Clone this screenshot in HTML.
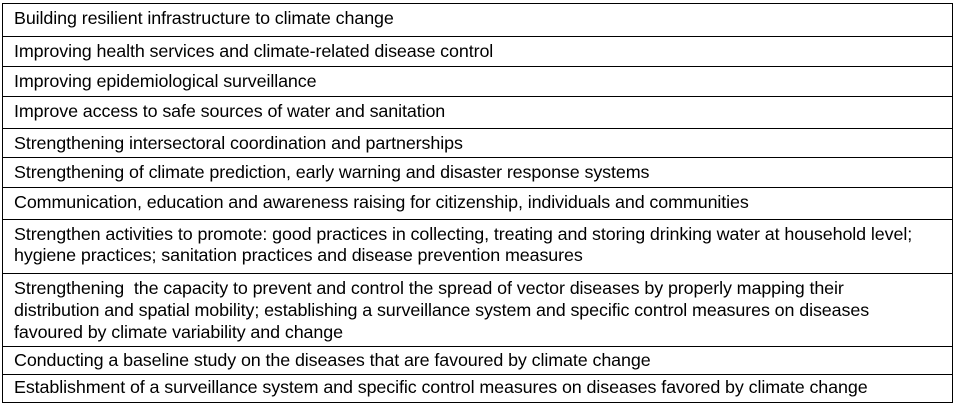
<!DOCTYPE html>
<html><head><meta charset="utf-8"><style>
body{margin:0;background:#fff;width:958px;height:411px;position:relative;overflow:hidden;font-family:"Liberation Sans",sans-serif;}
#tbl{position:absolute;left:2px;top:3px;width:951px;height:400px;border:1.5px solid #000;box-sizing:border-box;}
.row{position:absolute;left:0;width:100%;box-sizing:border-box;border-bottom:1.5px solid #000;font-size:17.9px;line-height:20px;color:#000;padding-left:11px;padding-top:4px;white-space:nowrap;letter-spacing:-0.1px;}
.row:last-child{border-bottom:none}
</style></head><body>
<div id="tbl">
<div class="row" style="top:0;height:33px">Building resilient infrastructure to climate change</div>
<div class="row" style="top:33px;height:30px">Improving health services and climate-related disease control</div>
<div class="row" style="top:63px;height:30px">Improving epidemiological surveillance</div>
<div class="row" style="top:93px;height:32px">Improve access to safe sources of water and sanitation</div>
<div class="row" style="top:125px;height:29px">Strengthening intersectoral coordination and partnerships</div>
<div class="row" style="top:154px;height:30px">Strengthening of climate prediction, early warning and disaster response systems</div>
<div class="row" style="top:184px;height:32px">Communication, education and awareness raising for citizenship, individuals and communities</div>
<div class="row" style="top:216px;height:54px;line-height:20.5px">Strengthen activities to promote: good practices in collecting, treating and storing drinking water at household level;<br>hygiene practices; sanitation practices and disease prevention measures</div>
<div class="row" style="top:270px;height:73px;line-height:22px;padding-top:3px">Strengthening&nbsp; the capacity to prevent and control the spread of vector diseases by properly mapping their<br>distribution and spatial mobility; establishing a surveillance system and specific control measures on diseases<br>favoured by climate variability and change</div>
<div class="row" style="top:343px;height:28px;padding-top:3px">Conducting a baseline study on the diseases that are favoured by climate change</div>
<div class="row" style="top:371px;height:29px;padding-top:2px">Establishment of a surveillance system and specific control measures on diseases favored by climate change</div>
</div>
</body></html>
